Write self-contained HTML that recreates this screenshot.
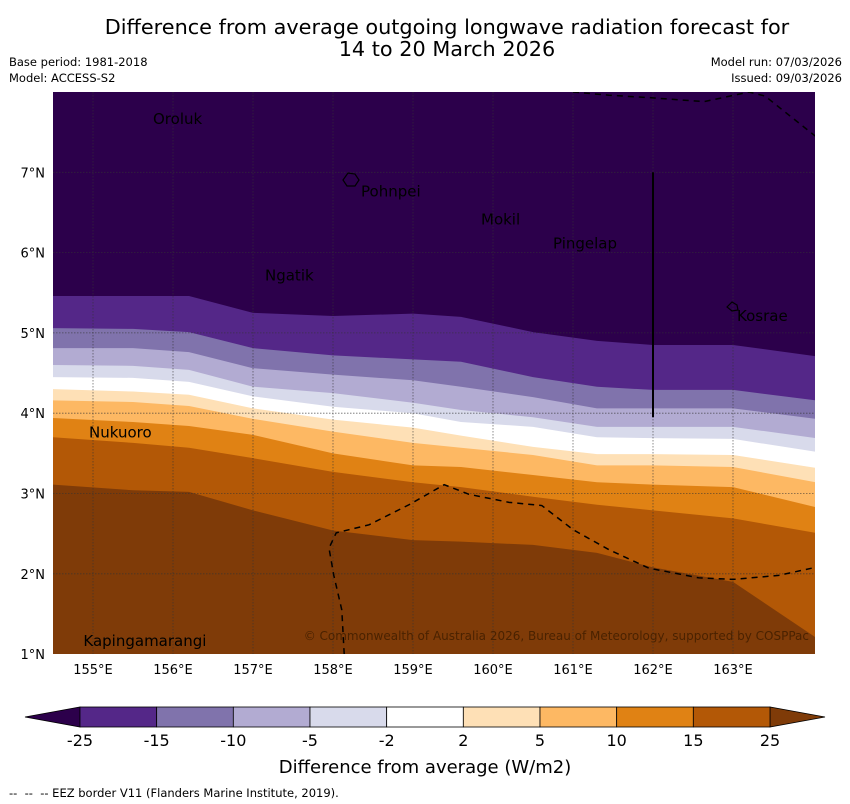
<!DOCTYPE html>
<html><head><meta charset="utf-8"><style>
body{margin:0;background:#fff;width:850px;height:804px;overflow:hidden;font-family:"Liberation Sans","DejaVu Sans",sans-serif}
svg{display:block}
</style></head><body>
<svg id="c" width="850" height="804" xmlns="http://www.w3.org/2000/svg">
<text x="447" y="34" font-size="20.8" text-anchor="middle" font-family="DejaVu Sans, sans-serif">Difference from average outgoing longwave radiation forecast for</text>
<text x="447" y="56" font-size="20.8" text-anchor="middle" font-family="DejaVu Sans, sans-serif">14 to 20 March 2026</text>
<text x="9" y="66" font-size="11.5" font-family="DejaVu Sans, sans-serif">Base period: 1981-2018</text>
<text x="9" y="82" font-size="11.5" font-family="DejaVu Sans, sans-serif">Model: ACCESS-S2</text>
<text x="842" y="66" font-size="11.5" text-anchor="end" font-family="DejaVu Sans, sans-serif">Model run: 07/03/2026</text>
<text x="842" y="82" font-size="11.5" text-anchor="end" font-family="DejaVu Sans, sans-serif">Issued: 09/03/2026</text>
<g id="plot"></g>
<g id="cbar"></g>
<text x="425" y="773" font-size="18" text-anchor="middle" font-family="DejaVu Sans, sans-serif">Difference from average (W/m2)</text>
<text x="9" y="797" font-size="11.5" font-family="DejaVu Sans, sans-serif" xml:space="preserve">--  --  -- EEZ border V11 (Flanders Marine Institute, 2019).</text>
</svg>
<script>
const lons=[154.5,155.5,156.2,157,158,159,159.6,160.5,161.3,162,163,164.03];
const levels=[-25,-15,-10,-5,-2,2,5,10,15,25];
const b_m25=[5.46,5.46,5.46,5.25,5.21,5.24,5.20,5.01,4.90,4.85,4.85,4.71];
const b_m15=[5.06,5.05,5.01,4.81,4.72,4.67,4.64,4.45,4.33,4.29,4.29,4.16];
const b_m10=[4.81,4.81,4.76,4.56,4.48,4.41,4.33,4.20,4.06,4.06,4.06,3.93];
const b_m5=[4.60,4.59,4.54,4.33,4.25,4.13,4.04,3.95,3.83,3.83,3.83,3.69];
const b_m2=[4.45,4.44,4.39,4.21,4.08,4.00,3.89,3.83,3.70,3.69,3.68,3.52];
const b_p2=[4.30,4.27,4.23,4.06,3.92,3.82,3.72,3.58,3.49,3.49,3.48,3.32];
const b_p5=[4.16,4.14,4.09,3.93,3.77,3.63,3.57,3.48,3.35,3.35,3.33,3.14];
const b_p10=[3.94,3.89,3.84,3.73,3.50,3.35,3.33,3.23,3.14,3.11,3.08,2.83];
const b_p15=[3.70,3.63,3.57,3.44,3.27,3.14,3.08,2.96,2.86,2.79,2.69,2.51];
const b_p25=[3.11,3.04,3.02,2.79,2.54,2.42,2.40,2.36,2.26,2.08,1.90,1.21];
const colors=['#2c004b','#542788','#8073ac','#b2abd2','#d8daeb','#ffffff','#fee0b6','#fdb863','#e08214','#b35806','#7f3b08'];
const tickLabels=['-25','-15','-10','-5','-2','2','5','10','15','25'];
const lonTicks=[155,156,157,158,159,160,161,162,163];
const latTicks=[1,2,3,4,5,6,7];
const places=[['Oroluk',155.75,7.6],['Pohnpei',158.35,6.7],['Mokil',159.85,6.35],['Pingelap',160.75,6.05],['Ngatik',157.15,5.65],['Kosrae',163.05,5.15],['Nukuoro',154.95,3.7],['Kapingamarangi',154.88,1.1]];
const eezLon=[158.14,158.11,158.01,157.95,158.04,158.45,158.95,159.39,159.7,160.2,160.61,161.0,161.45,161.95,162.57,163.0,163.57,164.03];
const eezLat=[1.0,1.55,1.98,2.32,2.51,2.61,2.86,3.11,2.99,2.89,2.85,2.55,2.30,2.07,1.95,1.93,1.98,2.08];
const eez2Lon=[161.0,161.45,161.95,162.64,163.2,163.4,164.03];
const eez2Lat=[8.0,7.96,7.93,7.88,8.0,7.95,7.45];
const X=l=>53+(l-154.5)*80;
const Y=a=>92+(8-a)*80.3;
const NS='http://www.w3.org/2000/svg';
const plot=document.getElementById('plot');
function mk(t,a,p){const e=document.createElementNS(NS,t);for(const k in a)e.setAttribute(k,a[k]);(p||plot).appendChild(e);return e;}
const clip=mk('clipPath',{id:'pc'});mk('rect',{x:53,y:92,width:762,height:562},clip);
const g=mk('g',{'clip-path':'url(#pc)'});
const bounds=[b_m25,b_m15,b_m10,b_m5,b_m2,b_p2,b_p5,b_p10,b_p15,b_p25];
const bg=mk('rect',{x:53,y:92,width:762,height:562,fill:colors[0]},g);


bounds.forEach((b,i)=>{
  let d='M'+b.map((v,j)=>X(lons[j])+','+Y(v)).join(' L');
  d+=' L820,660 L48,660 Z';
  const p=mk('path',{d:d,fill:colors[i+1]},g);
  
  
});
lonTicks.forEach(l=>{const e=mk('line',{x1:X(l),x2:X(l),y1:92,y2:654,stroke:'#333','stroke-width':0.8,'stroke-dasharray':'1.5 1.5',opacity:0.7},g);

const t=mk('text',{x:X(l),y:674,'font-size':13,'text-anchor':'middle','font-family':'DejaVu Sans, sans-serif'});t.textContent=l+'°E';
});
latTicks.forEach(a=>{if(a>1){const e=mk('line',{x1:53,x2:815,y1:Y(a),y2:Y(a),stroke:'#333','stroke-width':0.8,'stroke-dasharray':'1.5 1.5',opacity:0.7},g);
}
const t=mk('text',{x:45,y:Y(a)+5,'font-size':13,'text-anchor':'end','font-family':'DejaVu Sans, sans-serif'});t.textContent=a+'°N';
});
const e1=mk('polyline',{points:eezLon.map((l,i)=>X(l)+','+Y(eezLat[i])).join(' '),fill:'none',stroke:'#000','stroke-width':1.5,'stroke-dasharray':'6 5'},g);

const e2=mk('polyline',{points:eez2Lon.map((l,i)=>X(l)+','+Y(eez2Lat[i])).join(' '),fill:'none',stroke:'#000','stroke-width':1.5,'stroke-dasharray':'6 5'},g);

const vl=mk('line',{x1:X(162),x2:X(162),y1:Y(7),y2:Y(3.95),stroke:'#000','stroke-width':2},g);

const isl1=mk('path',{d:'M343,180 l5,-7 l7,1 l4,6 l-4,6 l-8,0 Z',fill:'none',stroke:'#000','stroke-width':1.2},g);

const isl2=mk('path',{d:'M727,307 l5,-5 l5,3 l1,5 l-6,1 Z',fill:'none',stroke:'#000','stroke-width':1.2},g);

places.forEach(p=>{const t=mk('text',{x:X(p[1]),y:Y(p[2]),'font-size':15,'font-family':'DejaVu Sans, sans-serif',fill:'#000'},g);t.textContent=p[0];
});
const cp=mk('text',{x:809,y:640,'font-size':12,'text-anchor':'end','font-family':'DejaVu Sans, sans-serif',fill:'#4a2200'},g);
cp.textContent='© Commonwealth of Australia 2026, Bureau of Meteorology, supported by COSPPac';

const cb=document.getElementById('cbar');
const cx0=80,cx1=770,cy=707,ch=20,w=(cx1-cx0)/(levels.length-1);
const lt=mk('polygon',{points:`25,${cy+ch/2} ${cx0},${cy} ${cx0},${cy+ch}`,fill:colors[0],stroke:'#000','stroke-width':0.8},cb);

const rt=mk('polygon',{points:`825,${cy+ch/2} ${cx1},${cy} ${cx1},${cy+ch}`,fill:colors[10],stroke:'#000','stroke-width':0.8},cb);

for(let i=0;i<levels.length-1;i++){const r=mk('rect',{x:cx0+i*w,y:cy,width:w,height:ch,fill:colors[i+1],stroke:'#000','stroke-width':0.8},cb);
}
tickLabels.forEach((s,i)=>{const t=mk('text',{x:cx0+i*w,y:746,'font-size':16,'text-anchor':'middle','font-family':'DejaVu Sans, sans-serif'},cb);t.textContent=s;
});
</script>
</body></html>
